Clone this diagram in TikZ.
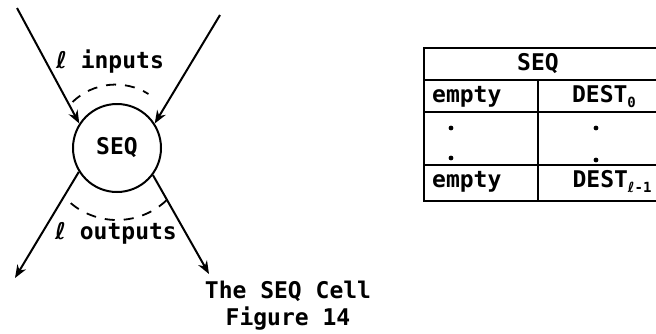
\documentclass[tikz,border=0pt]{standalone}
\usepackage{fontspec}
\setmonofont{DejaVu Sans Mono}
\newfontfamily\ellfont{DejaVu Sans}
\usepackage{tikz}
\usetikzlibrary{arrows.meta, positioning}

\newcommand{\tsub}[1]{\raisebox{-5pt}{\fontsize{14}{14}\selectfont #1}}
\newcommand{\ellsym}{{\ellfont\bfseries ℓ}}

\tikzset{
    typed/.style={font=\ttfamily\bfseries\fontsize{23}{27}\selectfont, inner sep=0pt},
    wire/.style={line width=2pt},
    span/.style={line width=1.8pt, dash pattern=on 10pt off 9pt},
    cellline/.style={line width=1.8pt}
}

\begin{document}
\begin{tikzpicture}[x=1pt, y=-1pt, >={Stealth[length=13pt,width=10pt]}]

    % frame of the picture
    \clip (0,0) rectangle (656,333);

    % ---------------------------------------------------------------
    % 1. THE SEQ CELL
    % ---------------------------------------------------------------
    \node[draw, circle, line width=2pt, minimum size=88pt, typed] (seq) at (117,148) {SEQ};

    \coordinate (inA) at (17,8);
    \coordinate (inB) at (220,15);
    \coordinate (outA) at (15,278);
    \coordinate (outB) at (209,274);

    % incoming wires
    \draw[wire, ->] (inA) -- (seq.147);
    \draw[wire, ->] (inB) -- (seq.33);

    % outgoing wires
    \draw[wire, ->] (seq.212) -- (outA);
    \draw[wire, ->] (seq.323) -- (outB);

    % dashed arcs spanning the wires
    \draw[span] (seq.center) ++(130:72) arc[start angle=130, end angle=46, radius=72];
    \draw[span] (seq.center) ++(226:64) arc[start angle=226, end angle=302, radius=62];

    % labels of the wires
    \node[typed] (inlab) at (110,62) {\ellsym\ inputs};
    \node[typed] (outlab) at (116,233) {\ellsym\ outputs};

    % caption
    \node[typed, align=center] (cap) at (288,306) {The SEQ Cell\\Figure 14};

    % ---------------------------------------------------------------
    % 2. THE SEQ TABLE
    % ---------------------------------------------------------------
    \draw[cellline] (424,48) rectangle (670,201);
    \draw[cellline] (424,80) -- (670,80);
    \draw[cellline] (424,112) -- (670,112);
    \draw[cellline] (424,165) -- (670,165);
    \draw[cellline] (538,80) -- (538,201);

    \node[typed] (head) at (538,64) {SEQ};
    \node[typed, anchor=west] (emptyA) at (432,97) {empty};
    \node[typed] (destA) at (604,97) {DEST\tsub{0}};
    \node[typed, anchor=west] (emptyB) at (432,182) {empty};
    \node[typed] (destB) at (612,182) {DEST\tsub{{\ellfont ℓ}-1}};

    % dots of the elided rows
    \fill (451,128) circle (2.4pt);
    \fill (451,158) circle (2.4pt);
    \fill (596,128) circle (2.4pt);
    \fill (596,160) circle (2.4pt);

\end{tikzpicture}
\end{document}
